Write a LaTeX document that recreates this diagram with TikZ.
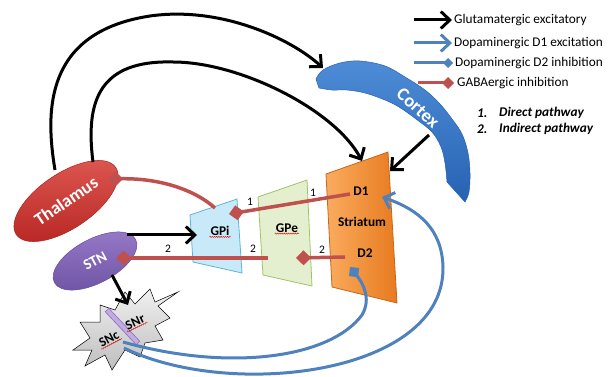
\documentclass[tikz,border=0pt]{standalone}
\usepackage{fontspec}
\setmainfont{Carlito}
\usetikzlibrary{arrows.meta,shapes.geometric,decorations.pathmorphing}
\definecolor{cblue}{RGB}{79,129,189}
\definecolor{cred}{RGB}{192,80,77}
\definecolor{thtop}{RGB}{222,88,82}
\definecolor{thbot}{RGB}{185,40,36}
\definecolor{stntop}{RGB}{150,122,200}
\definecolor{stnbot}{RGB}{112,84,165}
\definecolor{ctxtop}{RGB}{78,140,215}
\definecolor{ctxbot}{RGB}{38,98,178}
\definecolor{orl}{RGB}{250,172,95}
\definecolor{orr}{RGB}{232,122,30}
\definecolor{gpifill}{RGB}{200,234,248}
\definecolor{gpidraw}{RGB}{92,180,218}
\definecolor{gpefill}{RGB}{228,239,207}
\definecolor{gpedraw}{RGB}{160,196,100}
\definecolor{sntop}{RGB}{240,240,240}
\definecolor{snbot}{RGB}{190,190,190}
\definecolor{bandfill}{RGB}{192,172,226}
\definecolor{banddraw}{RGB}{140,110,190}
\begin{document}
\begin{tikzpicture}[x=1pt,y=-1pt,
  lbl/.style={font=\fontsize{13.3}{15}\selectfont\bfseries, inner sep=1pt},
  num/.style={font=\fontsize{11.5}{13}\selectfont, inner sep=0pt},
  legtext/.style={font=\fontsize{13.3}{15}\selectfont, anchor=west, inner sep=0pt},
  glu/.style={draw=black, line width=3pt, -{Straight Barb[length=9pt,width=17pt]}},
  gaba/.style={draw=cred, line width=3.5pt, -{Diamond[length=15pt,width=15pt]}},
  dexc/.style={draw=cblue, line width=3pt, -{Straight Barb[length=9pt,width=17pt]}},
  dinh/.style={draw=cblue, line width=3pt, -{Diamond[length=13pt,width=13pt]}},
  squig/.style={draw=red!85!black, line width=0.4pt, decorate, decoration={snake, amplitude=0.6pt, segment length=2.2pt}},
  quad/.style={line width=0.8pt}]
\useasboundingbox (0,0) rectangle (611,377);

% ---------- Cortex ----------
\path[top color=ctxtop, bottom color=ctxbot, draw=ctxbot, line width=0.5pt]
  plot[smooth, tension=0.6] coordinates {(316,79) (323,70) (340,63) (360,61) (385,66) (405,77) (425,90) (440,104) (452,119) (462,134) (468,153) (470,173) (469,192) (465,202)}
  -- plot[smooth, tension=0.6] coordinates {(447,182) (445,163) (441,147) (432,132) (416,119) (399,107) (385,100) (365,93) (347,90) (332,90) (319,88)}
  -- cycle;
\node[font=\fontsize{18.5}{21}\selectfont\bfseries, text=white, rotate=-42] (ctx) at (418,108) {Cortex};

% ---------- Striatum ----------
\path[left color=orl, right color=orr, draw=orr!85!black, quad]
  (326,174) -- (388,152) -- (397,303) -- (332,287) -- cycle;
\node[lbl] (d1) at (361,191) {D1};
\node[lbl] (str) at (362,222) {Striatum};
\node[lbl] (d2) at (365,253) {D2};

% ---------- GPe ----------
\path[fill=gpefill, draw=gpedraw, quad] (258,197) -- (307,180) -- (312,286) -- (263,275) -- cycle;
\node[lbl] (gpe) at (287,228) {GPe};
% ---------- GPi ----------
\path[fill=gpifill, draw=gpidraw, quad] (190,215) -- (237,199) -- (242,273) -- (193,262) -- cycle;
\node[lbl] (gpi) at (220,231) {GPi};

% ---------- Thalamus and STN ----------
\node[ellipse, minimum width=120pt, minimum height=55pt, inner sep=0pt, rotate=34,
  top color=thtop, bottom color=thbot, draw=thbot!90!black, line width=0.5pt,
  text=white, font=\fontsize{18}{20}\selectfont\bfseries] (thal) at (66,201) {Thalamus};
\node[ellipse, minimum width=92pt, minimum height=44pt, inner sep=0pt, rotate=28,
  top color=stntop, bottom color=stnbot, draw=stnbot!90!black, line width=0.5pt,
  text=white, font=\fontsize{15}{17}\selectfont\bfseries] (stn) at (95,261) {STN};

% ---------- SNc / SNr ----------
\path[top color=sntop, bottom color=snbot, draw=black, line width=0.5pt]
  (178,292) -- (158,306) -- (170,318) -- (155,326) -- (163,340) -- (145,343) -- (140,357)
  -- (125,350) -- (112,370) -- (105,355) -- (85,366) -- (92,350) -- (73,350) -- (90,338)
  -- (80,322) -- (100,322) -- (100,305) -- (115,310) -- (125,292) -- (135,304) -- (150,289)
  -- (155,302) -- cycle;
\path[fill=bandfill, draw=banddraw, line width=0.6pt]
  (105.2,311.7) -- (108.8,308.3) -- (139.8,341.3) -- (136.2,344.7) -- cycle;
\node[lbl, rotate=28] (snc) at (109,339) {SNc};
\node[lbl, rotate=25] (snr) at (135,322) {SNr};

% ---------- spell-check marks ----------
\draw[squig] (gpi.south west) -- (gpi.south east);
\draw[squig] (gpe.south west) -- (gpe.south east);
\draw[squig] (snc.south west) -- (snc.south east);
\draw[squig] (snr.south west) -- (snr.south east);

% ---------- connector end points ----------
\coordinate (thalA) at (55,170);
\coordinate (thalB) at (93,162);
\coordinate (ctxIn) at (323,68);
\coordinate (ctxOut) at (429,135);
\coordinate (strTop) at (362,161);
\coordinate (strRight) at (390,171);
\coordinate (d1Out) at (350,194);
\coordinate (gpiIn) at (229,214);
\coordinate (d2Out) at (345,257);
\coordinate (gpeIn) at (296,258);
\coordinate (gpeOut) at (268,258);
\coordinate (stnIn) at (116,258);
\coordinate (gpiOut) at (215,208);
\coordinate (thalIn) at (108,179);
\coordinate (stnE) at (127,235);
\coordinate (gpiW) at (197,235);
\coordinate (stnS) at (112,275);
\coordinate (snrTop) at (128,305);
\coordinate (sncA) at (123,342);
\coordinate (sncB) at (124,348);
\coordinate (d2In) at (350,267);
\coordinate (d1In) at (382,197);

% ---------- glutamatergic ----------
\draw[glu] (thalA) .. controls (45,110) and (45,32) .. (150,16) .. controls (220,6) and (290,38) .. (ctxIn);
\draw[glu] (thalB) .. controls (85,100) and (100,60) .. (173,62) .. controls (240,62) and (335,110) .. (strTop);
\draw[glu] (ctxOut) -- (strRight);
\draw[glu] (stnE) -- (gpiW);
\draw[glu] (stnS) -- (snrTop);

% ---------- GABAergic ----------
\draw[gaba] (d1Out) -- (gpiIn);
\draw[gaba] (d2Out) -- (gpeIn);
\draw[gaba] (gpeOut) -- (stnIn);
\draw[gaba] (gpiOut) .. controls (195,190) and (160,178) .. (thalIn);

% ---------- dopaminergic ----------
\draw[dinh] (sncA) .. controls (230,372) and (330,358) .. (362,315) .. controls (372,298) and (362,282) .. (d2In);
\draw[dexc] (sncB) .. controls (230,400) and (445,375) .. (443,267) .. controls (442,230) and (420,210) .. (d1In);

% ---------- pathway numbers ----------
\node[num] (n1a) at (313,193) {1};
\node[num] (n1b) at (250,202) {1};
\node[num] (n2a) at (322,250) {2};
\node[num] (n2b) at (253,249) {2};
\node[num] (n2c) at (168,249) {2};

% ---------- legend ----------
\coordinate (lg1a) at (414,20);  \coordinate (lg1b) at (452,20);
\coordinate (lg2a) at (414,43);  \coordinate (lg2b) at (452,43);
\coordinate (lg3a) at (414,63);  \coordinate (lg3b) at (453,63);
\coordinate (lg4a) at (418,83);  \coordinate (lg4b) at (454,83);
\draw[glu] (lg1a) -- (lg1b);
\draw[dexc] (lg2a) -- (lg2b);
\draw[draw=cblue, line width=3pt, -{Diamond[length=10pt,width=10pt]}] (lg3a) -- (lg3b);
\draw[draw=cred, line width=3pt, -{Diamond[length=12pt,width=12pt]}] (lg4a) -- (lg4b);
\node[legtext] (lt1) at (454,20) {Glutamatergic excitatory};
\node[legtext] (lt2) at (454,43) {Dopaminergic D1 excitation};
\node[legtext] (lt3) at (455,63) {Dopaminergic D2 inhibition};
\node[legtext] (lt4) at (457,83) {GABAergic inhibition};
\node[legtext, font=\fontsize{13.3}{15}\selectfont\bfseries\itshape] (p1n) at (477,113) {1.};
\node[legtext, font=\fontsize{13.3}{15}\selectfont\bfseries\itshape] (p1t) at (499,113) {Direct pathway};
\node[legtext, font=\fontsize{13.3}{15}\selectfont\bfseries\itshape] (p2n) at (477,129) {2.};
\node[legtext, font=\fontsize{13.3}{15}\selectfont\bfseries\itshape] (p2t) at (499,129) {Indirect pathway};
\end{tikzpicture}
\end{document}
